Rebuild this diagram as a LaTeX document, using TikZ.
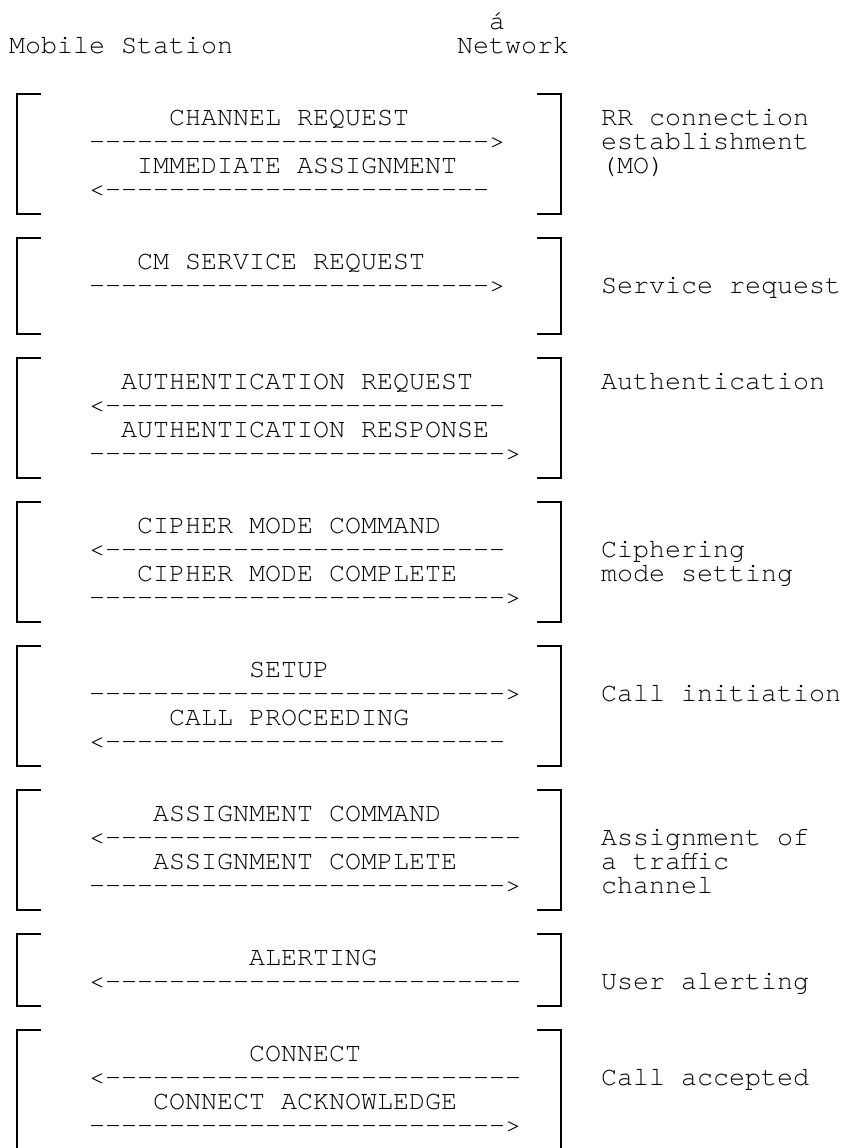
\documentclass[tikz,border=0pt]{standalone}
\usepackage{fontspec}
\newfontfamily\cur{texgyrecursor-regular.otf}[Ligatures=TeXOff]
\begin{document}
\begin{tikzpicture}[x=1bp,y=-1bp,
  txt/.style={anchor=base west,inner sep=0pt,outer sep=0pt,text height=14bp,text depth=2bp,font=\cur\fontsize{26.67bp}{24bp}\selectfont},
  brk/.style={line width=1.6bp,line join=miter}]
\useasboundingbox[fill=white] (0,0) rectangle (844,1148);
% header
\node[txt] (acc) at (489,29.6) {á};
\node[txt] (ms) at (9,53.6) {Mobile Station};
\node[txt] (nw) at (457,53.6) {Network};
% brackets
\foreach \t/\b [count=\i] in {94/214,238/334,358/478,502/622,646/766,790/910,934/1006}{
  \draw[brk] (41,\t) -- (17,\t) -- (17,\b) -- (41,\b);
  \draw[brk] (537,\t) -- (561,\t) -- (561,\b) -- (537,\b);
}
\draw[brk] (41,1030) -- (17,1030) -- (17,1152);
\draw[brk] (537,1030) -- (561,1030) -- (561,1152);
% group 1
\node[txt] (m1) at (169,125.6) {CHANNEL REQUEST};
\node[txt] (a1) at (89,149.6) {------------------------->};
\node[txt] (m2) at (137,173.6) {IMMEDIATE ASSIGNMENT};
\node[txt] (a2) at (89,197.6) {<------------------------};
\node[txt] (l1a) at (601,125.6) {RR connection};
\node[txt] (l1b) at (601,149.6) {establishment};
\node[txt] (l1c) at (601,173.6) {(MO)};
% group 2
\node[txt] (m3) at (137,269.6) {CM SERVICE REQUEST};
\node[txt] (a3) at (89,293.6) {------------------------->};
\node[txt] (l2) at (601,293.6) {Service request};
% group 3
\node[txt] (m4) at (121,389.6) {AUTHENTICATION REQUEST};
\node[txt] (a4) at (89,413.6) {<-------------------------};
\node[txt] (m5) at (121,437.6) {AUTHENTICATION RESPONSE};
\node[txt] (a5) at (89,461.6) {-------------------------->};
\node[txt] (l3) at (601,389.6) {Authentication};
% group 4
\node[txt] (m6) at (137,533.6) {CIPHER MODE COMMAND};
\node[txt] (a6) at (89,557.6) {<-------------------------};
\node[txt] (m7) at (137,581.6) {CIPHER MODE COMPLETE};
\node[txt] (a7) at (89,605.6) {-------------------------->};
\node[txt] (l4a) at (601,557.6) {Ciphering};
\node[txt] (l4b) at (601,581.6) {mode setting};
% group 5
\node[txt] (m8) at (249,677.6) {SETUP};
\node[txt] (a8) at (89,701.6) {-------------------------->};
\node[txt] (m9) at (169,725.6) {CALL PROCEEDING};
\node[txt] (a9) at (89,749.6) {<-------------------------};
\node[txt] (l5) at (601,701.6) {Call initiation};
% group 6
\node[txt] (m10) at (153,821.6) {ASSIGNMENT COMMAND};
\node[txt] (a10) at (89,845.6) {<--------------------------};
\node[txt] (m11) at (153,869.6) {ASSIGNMENT COMPLETE};
\node[txt] (a11) at (89,893.6) {-------------------------->};
\node[txt] (l6a) at (601,845.6) {Assignment of};
\node[txt] (l6b) at (601,869.6) {a traffic};
\node[txt] (l6c) at (601,893.6) {channel};
% group 7
\node[txt] (m12) at (249,965.6) {ALERTING};
\node[txt] (a12) at (89,989.6) {<--------------------------};
\node[txt] (l7) at (601,989.6) {User alerting};
% group 8
\node[txt] (m13) at (249,1061.6) {CONNECT};
\node[txt] (a13) at (89,1085.6) {<--------------------------};
\node[txt] (m14) at (153,1109.6) {CONNECT ACKNOWLEDGE};
\node[txt] (a14) at (89,1133.6) {-------------------------->};
\node[txt] (l8) at (601,1085.6) {Call accepted};
\end{tikzpicture}
\end{document}
